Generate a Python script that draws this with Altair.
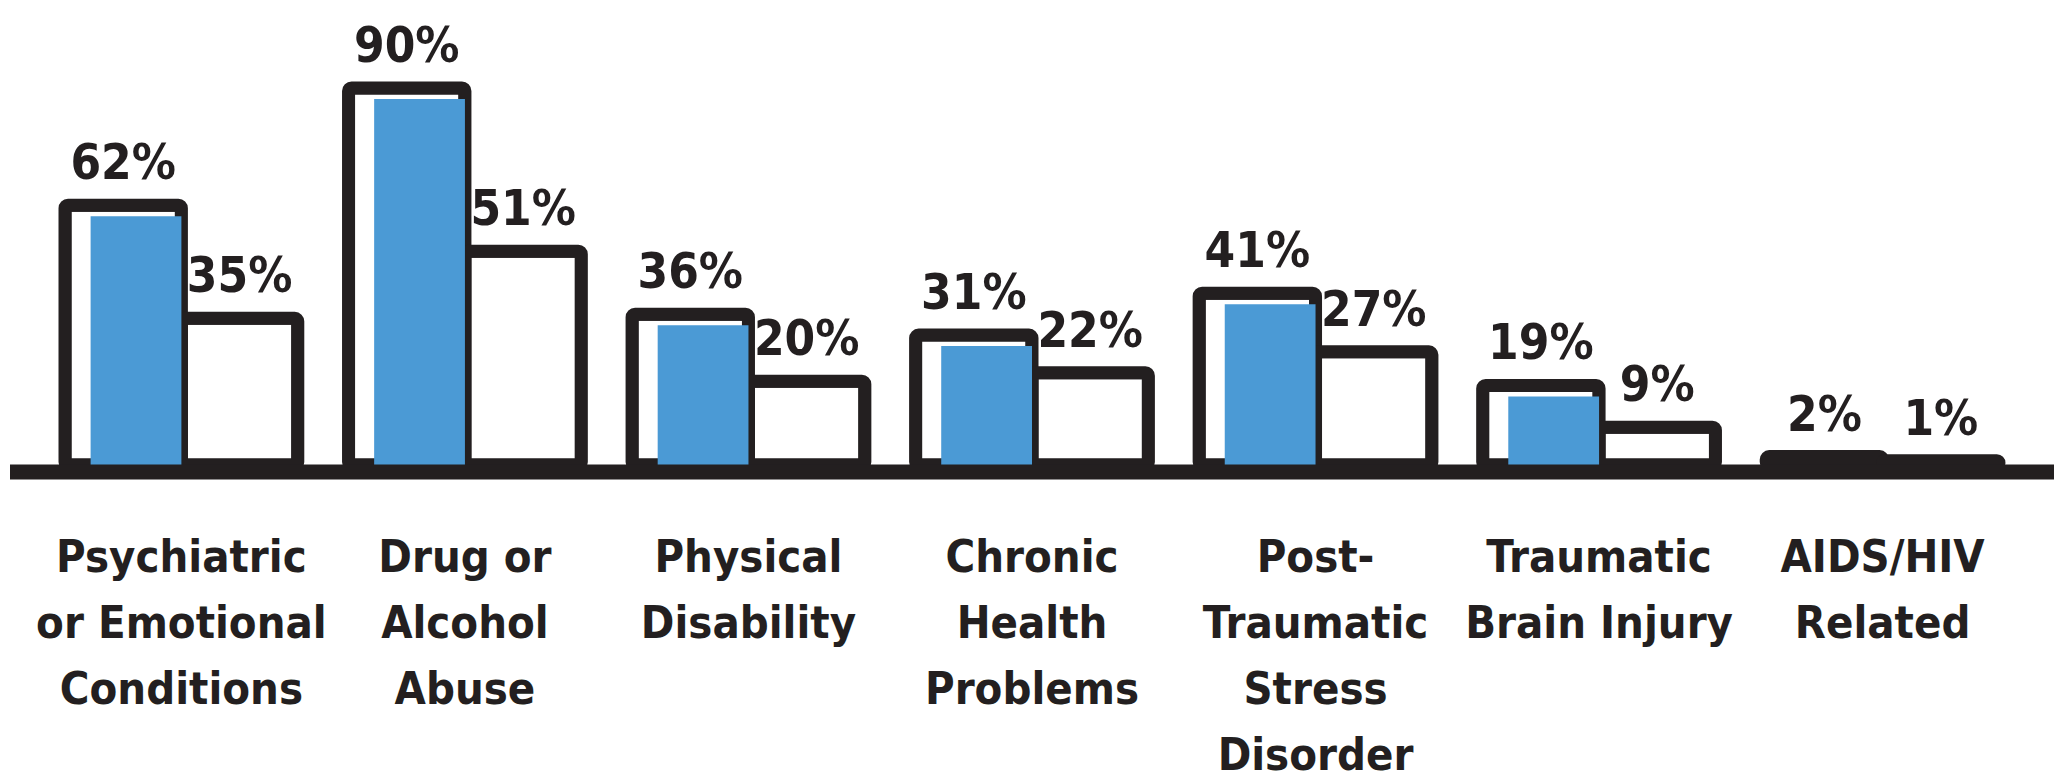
import altair as alt
import pandas as pd

categories = [
    "Psychiatric|or Emotional|Conditions",
    "Drug or|Alcohol|Abuse",
    "Physical|Disability",
    "Chronic|Health|Problems",
    "Post-|Traumatic|Stress|Disorder",
    "Traumatic|Brain Injury",
    "AIDS/HIV|Related",
]
blue_values = [62, 90, 36, 31, 41, 19, 2]
white_values = [35, 51, 20, 22, 27, 9, 1]
series = ["A", "B"]

rows = []
for c, a, b in zip(categories, blue_values, white_values):
    rows.append({"category": c, "series": "A", "value": a})
    rows.append({"category": c, "series": "B", "value": b})
df = pd.DataFrame(rows)

INK = "#231f20"
BLUE = "#4b9ad5"
FONT = "DejaVu Sans Condensed"

x = alt.X(
    "category:N",
    sort=categories,
    scale=alt.Scale(paddingInner=0.179, paddingOuter=0.194),
    axis=alt.Axis(
        title=None,
        domain=False,
        ticks=False,
        grid=False,
        labelAngle=0,
        labelExpr="split(datum.label, '|')",
        labelFont=FONT,
        labelFontSize=45,
        labelFontWeight="bold",
        labelColor=INK,
        labelLineHeight=66,
        labelPadding=70,
        labelLimit=0,
        labelOverlap=False,
        labelBound=False,
    ),
)
xo = alt.XOffset("series:N", sort=series, scale=alt.Scale(paddingInner=0, paddingOuter=0))
y = alt.Y("value:Q", scale=alt.Scale(domain=[0, 100]), axis=None)

base = alt.Chart(df)

outer = base.mark_bar(fill="white", stroke=INK, strokeWidth=13, cornerRadius=3).encode(
    x=x, xOffset=xo, y=y
)
inner = (
    base.transform_filter("datum.series == 'A'")
    .mark_bar(color=BLUE, yOffset=11, width=alt.RelativeBandSize(0.78))
    .encode(x=x, xOffset=xo, y=y)
)
baseline = (
    alt.Chart(pd.DataFrame({"v": [0]}))
    .mark_rule(color=INK, strokeWidth=15, yOffset=7)
    .encode(y=alt.Y("v:Q", scale=alt.Scale(domain=[0, 100]), axis=None))
)
labels = (
    base.transform_calculate(label="datum.value + '%'")
    .mark_text(
        font=FONT,
        fontSize=49,
        fontWeight="bold",
        color=INK,
        baseline="alphabetic",
        dy=-26,
    )
    .encode(x=x, xOffset=xo, y=y, text="label:N")
)

chart = (
    alt.layer(outer, inner, baseline, labels)
    .properties(
        width=2044,
        height=419,
        padding={"left": 10, "top": 46, "right": 0, "bottom": 319},
        autosize=alt.AutoSizeParams(type="none"),
        background="white",
    )
    .configure_view(stroke=None)
)

chart.save("out.html", embed_options={"renderer": "svg", "actions": False})
